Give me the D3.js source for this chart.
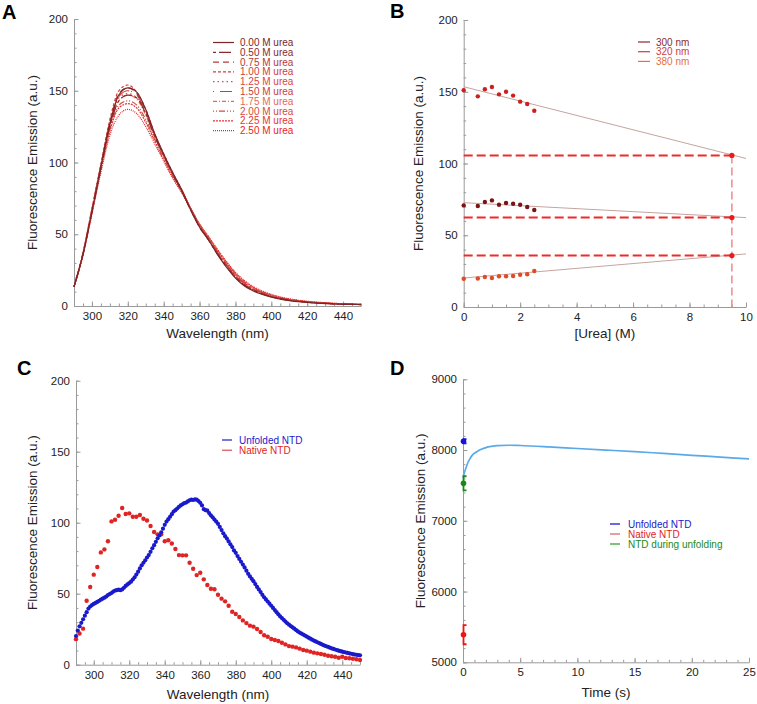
<!DOCTYPE html>
<html>
<head>
<meta charset="utf-8">
<script src="https://cdn.jsdelivr.net/npm/d3@7"></script>
<style>
body { margin: 0; background: #fff; }
svg { display: block; font-family: "Liberation Sans", Arial, sans-serif; }
.axis path, .axis line { stroke: #9a9a9a; stroke-width: 1; }
.axis text { fill: #222; font-size: 11.5px; font-family: "Liberation Sans", Arial, sans-serif; }
.title { fill: #222; font-size: 13.5px; }
.letter { fill: #000; font-size: 20px; font-weight: bold; }
.legend { font-size: 10px; }
</style>
</head>
<body>
<svg id="chart" width="757" height="704"></svg>
<script>
// ---------- Panel A : emission spectra at different urea ----------
var specWavelengths = [290,295,300,305,310,315,320,325,330,335,340,345,350,355,360,365,370,375,380,385,390,395,400,405,410,415,420,425,430,435,440,445,450];
var ureaLabels = ["0.00 M urea","0.50 M urea","0.75 M urea","1.00 M urea","1.25 M urea","1.50 M urea","1.75 M urea","2.00 M urea","2.25 M urea","2.50 M urea"];
var ureaColors = ["#7b2626","#8c2a2a","#b83838","#d23c3c","#dc4444","#cc3c3c","#e46a5c","#d44a40","#e43636","#ee2424"];
var ureaDashes = [null,"3,3,12,3","6,4","3,2","1.5,3","1,6,12,2","4,2,1,2","1,2,1,2,6,2","2,1","1,1"];
var u000 = [13.4,36,66,97,127,147,152,149,137,120,106,93,81,67,55,46,36,27,19.5,14,10.5,8,6.2,4.8,3.8,3.0,2.5,2.0,1.7,1.4,1.2,1.1,1.0];
var u050 = [13.4,36,65,96,125,143,147,145,134,118,105,92,80,67,55,46,36,27.5,20,14.5,11,8.4,6.5,5,4,3.2,2.6,2.1,1.8,1.5,1.3,1.1,1.0];
var u075 = [13.4,37,67,98,128,148,152,148,136,119,105,92,80,67,55,46,36.5,28,20.5,15,11.3,8.6,6.6,5.1,4.1,3.3,2.7,2.2,1.8,1.5,1.3,1.1,1.0];
var u100 = [13.4,37,68,99,130,150,154,149,137,120,106,93,81,68,56,47,37,28.5,21,15.4,11.6,8.8,6.8,5.3,4.2,3.4,2.8,2.3,1.9,1.6,1.4,1.2,1.1];
var u125 = [13.4,36,66,97,126,145,148,145,134,118,105,92,81,68,56,47,37.5,29,21.5,15.8,12,9.1,7,5.5,4.3,3.5,2.9,2.4,2.0,1.7,1.4,1.2,1.1];
var u150 = [13.4,36,67,98,127,146,150,147,135,119,105,92,81,68,56,47,37.5,29,21.5,16,12,9.2,7.1,5.5,4.4,3.5,2.9,2.4,2.0,1.7,1.4,1.2,1.1];
var u175 = [13.4,36,66,97,125,143,147,144,133,118,104,92,81,68,57,48,38,29.5,22,16.4,12.4,9.5,7.3,5.7,4.5,3.6,3.0,2.5,2.1,1.7,1.5,1.3,1.1];
var u200 = [13.4,36,66,96,123,140,143,140,130,116,103,91,80,68,57,48,38.5,30,22.5,16.8,12.7,9.7,7.5,5.9,4.6,3.7,3.1,2.5,2.1,1.8,1.5,1.3,1.1];
var u225 = [13.4,36,65,95,122,138,141,138,128,115,102,90,80,68,57,48,39,30.5,23,17.2,13,10,7.8,6.1,4.8,3.8,3.1,2.6,2.2,1.8,1.5,1.3,1.2];
var u250 = [13.4,35,64,93,119,133,137,134,125,113,101,89,79,68,57,48.5,39.5,31,23.5,17.8,13.5,10.4,8.1,6.3,5.0,4.0,3.3,2.7,2.3,1.9,1.6,1.4,1.2];
var spectra = [u000,u050,u075,u100,u125,u150,u175,u200,u225,u250];

// ---------- Panel B : emission vs urea ----------
var ureaConc = [0,0.5,0.75,1,1.25,1.5,1.75,2,2.25,2.5];
var em320 = [151,146.8,151.7,153.3,148.2,150,147.3,143.1,141.5,136.8];
var em300 = [70.8,70.4,73.2,74.3,71.3,72.5,72,71.3,69.7,67.6];
var em380 = [19.7,19.9,20.9,20.2,21.4,21.4,21.6,22.5,22.8,25.1];
var fitStart = [153.5,72.7,20.2];   // fitted line at 0 M
var fitEnd = [103.5,62.3,37.0];     // fitted line at 10 M
var extrapUrea = 9.5;
var extrapValues = [105.6,62.3,35.9];
var bLegend = ["300 nm","320 nm","380 nm"];
var bLegendColors = ["#8c2a2a","#d23c3c","#e8703c"];

// ---------- Panel C : native vs unfolded spectra ----------
var unfoldedWl = d3.range(290,451,1);
var unfoldedEm = [20.2,24,27,29.5,32,34.5,37,39.5,41,42,42.8,43.5,44.2,45,45.8,46.5,47.2,48,49,49.8,
  50.5,51.5,52.2,52.5,52.8,52.5,53,54.2,55.5,56.5,57.5,58.5,60,61.5,63.5,65.5,67.8,70,71.8,73.5,
  75.5,77.2,79.5,82,84.2,86.5,89,91,93.2,95.8,98.5,100.8,102.5,104.2,106,107.8,108.8,110,111.2,112.2,
  113,113.8,114.2,115,115.8,116.2,116,116.4,116.2,115.2,114,112.2,109.5,108.8,108.5,106.8,105.2,103.8,102.2,100.8,
  99.2,97,94.8,92.5,90.5,88.8,86.8,84.8,82.8,80.5,78.8,76.5,74.5,72.5,70.5,68.5,66.2,64,62.2,60.5,
  58.8,56.8,54.8,53,51.2,49.2,47.5,46,44.5,43,41.5,40,38.5,37,35.5,34,32.8,31.6,30.4,29.2,
  28.2,27.2,26.3,25.4,24.4,23.4,22.6,21.9,21.2,20.5,19.8,19,18.3,17.6,17,16.4,15.8,15.2,14.6,14,
  13.5,13,12.5,12,11.5,11.1,10.7,10.3,9.9,9.5,9.2,8.9,8.6,8.3,8,7.7,7.5,7.2,7,6.8,6.6];
var nativeWl = d3.range(290,451,2);
var nativeEm = [18,22,25.4,45,54.7,63.4,68.8,79.1,81.2,86.9,100.9,102.1,104.9,110.3,106.1,106.6,104.2,104.2,105.4,102.8,
  101.6,97.7,93.4,91.8,91.8,86.9,87.6,85.4,81.5,77.2,77,77,71.8,67.6,63.1,64.8,60.1,56.1,53.5,53.1,
  49.3,46.5,44.6,41.5,37.3,35.7,33.6,31.2,29.3,27.5,26.8,25.1,23,20.7,19.7,18.1,17.4,16.7,15.5,14.3,
  13.1,12.7,12.2,11.3,10.3,9.9,9.2,8.5,8,7.5,7,6.3,5.9,5.6,4.9,5.6,4.7,4.5,4.2,3.8,3.3];
var cLegend = ["Unfolded NTD","Native NTD"];
var cColors = ["#1a1acc","#e02424"];

// ---------- Panel D : kinetics ----------
var kinTime = [0,0.2,0.4,0.6,0.8,1.0,1.3,1.6,2.0,2.5,3,4,5,7.5,10,12.5,15,17.5,20,22.5,25];
var kinEm = [7610,7720,7810,7875,7925,7955,7985,8010,8035,8052,8062,8068,8064,8045,8022,8000,7978,7952,7926,7900,7874];
var dLegend = ["Unfolded NTD","Native NTD","NTD during unfolding"];
var dLineColors = ["#1a1acc","#d86a6a","#3aa03a"];
var dTextColors = ["#1a1acc","#e02424","#1a8a1a"];
var dPointValues = [8125,5390,7530];
var dPointErrors = [30,135,100];
var dPointColors = ["#1414dd","#ee1414","#168a16"];

var svg = d3.select("#chart");

// builds axes for one panel, returns scales
function makePanel(o) {
  var x = d3.scaleLinear().domain(o.xDomain).range([o.left, o.right]);
  var y = d3.scaleLinear().domain(o.yDomain).range([o.bottom, o.top]);
  var g = svg.append("g");

  g.append("g").attr("class", "axis").attr("transform", "translate(0," + o.bottom + ")")
    .call(d3.axisBottom(x).tickValues(o.xMinor).tickSize(-2.5).tickFormat(""))
    .select(".domain").remove();
  g.append("g").attr("class", "axis").attr("transform", "translate(" + o.left + ",0)")
    .call(d3.axisLeft(y).tickValues(o.yMinor).tickSize(-2.5).tickFormat(""))
    .select(".domain").remove();

  g.append("g").attr("class", "axis").attr("transform", "translate(0," + o.bottom + ")")
    .call(d3.axisBottom(x).tickValues(o.xTicks).tickSizeInner(-4.5).tickSizeOuter(0).tickPadding(6).tickFormat(d3.format("d")));
  g.append("g").attr("class", "axis").attr("transform", "translate(" + o.left + ",0)")
    .call(d3.axisLeft(y).tickValues(o.yTicks).tickSizeInner(-4.5).tickSizeOuter(0).tickPadding(6).tickFormat(d3.format("d")));

  g.append("text").attr("class", "title")
    .attr("x", (o.left + o.right) / 2).attr("y", o.xTitleY)
    .attr("text-anchor", "middle").text(o.xTitle);
  g.append("text").attr("class", "title")
    .attr("transform", "translate(" + o.yTitleX + "," + ((o.top + o.bottom) / 2) + ") rotate(-90)")
    .attr("text-anchor", "middle").attr("dy", "0.35em").text(o.yTitle);
  g.append("text").attr("class", "letter")
    .attr("x", o.letterX).attr("y", o.letterY).text(o.letter);
  return {g: g, x: x, y: y};
}

// ===== Panel A =====
var pA = makePanel({
  left: 74, right: 361, top: 19, bottom: 306,
  xDomain: [290, 450], yDomain: [0, 200],
  xTicks: d3.range(300, 441, 20), xMinor: d3.range(290, 451, 5),
  yTicks: d3.range(0, 201, 50), yMinor: d3.range(0, 201, 10),
  xTitle: "Wavelength (nm)", xTitleY: 338,
  yTitle: "Fluorescence Emission (a.u.)", yTitleX: 32,
  letter: "A", letterX: 2, letterY: 19
});
var lineA = d3.line()
  .x(function (d, i) { return pA.x(specWavelengths[i]); })
  .y(function (d) { return pA.y(d); })
  .curve(d3.curveMonotoneX);
for (var i = spectra.length - 1; i >= 0; i--) {
  pA.g.append("path").datum(spectra[i])
    .attr("d", lineA)
    .attr("fill", "none")
    .attr("stroke", ureaColors[i])
    .attr("stroke-width", 1.2)
    .attr("stroke-dasharray", ureaDashes[i]);
}
var legA = pA.g.append("g").attr("class", "legend");
ureaLabels.forEach(function (lab, i) {
  var yy = 42.5 + i * 9.8;
  legA.append("line").attr("x1", 213).attr("x2", 234).attr("y1", yy).attr("y2", yy)
    .attr("stroke", ureaColors[i]).attr("stroke-width", 1.2).attr("stroke-dasharray", ureaDashes[i]);
  legA.append("text").attr("x", 240).attr("y", yy).attr("dy", "0.35em")
    .attr("fill", ureaColors[i]).text(lab);
});

// ===== Panel B =====
var pB = makePanel({
  left: 463.7, right: 746, top: 20, bottom: 307,
  xDomain: [0, 10], yDomain: [0, 200],
  xTicks: d3.range(0, 11, 2), xMinor: d3.range(0, 10.01, 0.5),
  yTicks: d3.range(0, 201, 50), yMinor: d3.range(0, 201, 10),
  xTitle: "[Urea] (M)", xTitleY: 338,
  yTitle: "Fluorescence Emission (a.u.)", yTitleX: 418,
  letter: "B", letterX: 390, letterY: 18
});
var bSeries = [em300, em320, em380];
var bDotColors = ["#7a1414", "#cc2020", "#e04a24"];
// fitted lines
fitStart.forEach(function (v, i) {
  pB.g.append("line")
    .attr("x1", pB.x(0)).attr("y1", pB.y(v))
    .attr("x2", pB.x(10)).attr("y2", pB.y(fitEnd[i]))
    .attr("stroke", "#c4a4a0").attr("stroke-width", 1);
});
// extrapolation guides
pB.g.append("line")
  .attr("x1", pB.x(extrapUrea)).attr("x2", pB.x(extrapUrea))
  .attr("y1", pB.y(d3.max(extrapValues))).attr("y2", pB.y(0))
  .attr("stroke", "#f08a8a").attr("stroke-width", 1.5).attr("stroke-dasharray", "8,4");
extrapValues.forEach(function (v) {
  pB.g.append("line")
    .attr("x1", pB.x(0)).attr("x2", pB.x(extrapUrea))
    .attr("y1", pB.y(v)).attr("y2", pB.y(v))
    .attr("stroke", "#ee2a2a").attr("stroke-width", 2).attr("stroke-dasharray", "9,4");
  pB.g.append("circle").attr("cx", pB.x(extrapUrea)).attr("cy", pB.y(v)).attr("r", 2.6).attr("fill", "#ee1a1a");
});
bSeries.forEach(function (s, k) {
  pB.g.selectAll(null).data(s).enter().append("circle")
    .attr("cx", function (d, i) { return pB.x(ureaConc[i]); })
    .attr("cy", function (d) { return pB.y(d); })
    .attr("r", 2.2).attr("fill", bDotColors[k]);
});
var legB = pB.g.append("g").attr("class", "legend");
bLegend.forEach(function (lab, i) {
  var yy = 42 + i * 9.7;
  legB.append("line").attr("x1", 638).attr("x2", 650).attr("y1", yy).attr("y2", yy)
    .attr("stroke", bLegendColors[i]).attr("stroke-width", 1.2);
  legB.append("text").attr("x", 656).attr("y", yy).attr("dy", "0.35em")
    .attr("fill", bLegendColors[i]).text(lab);
});

// ===== Panel C =====
var pC = makePanel({
  left: 76, right: 360, top: 380.7, bottom: 664.7,
  xDomain: [290, 450], yDomain: [0, 200],
  xTicks: d3.range(300, 441, 20), xMinor: d3.range(290, 451, 5),
  yTicks: d3.range(0, 201, 50), yMinor: d3.range(0, 201, 10),
  xTitle: "Wavelength (nm)", xTitleY: 699,
  yTitle: "Fluorescence Emission (a.u.)", yTitleX: 32,
  letter: "C", letterX: 17, letterY: 375
});
pC.g.selectAll(null).data(nativeEm).enter().append("circle")
  .attr("cx", function (d, i) { return pC.x(nativeWl[i]); })
  .attr("cy", function (d) { return pC.y(d); })
  .attr("r", 2.2).attr("fill", cColors[1]);
pC.g.selectAll(null).data(unfoldedEm).enter().append("circle")
  .attr("cx", function (d, i) { return pC.x(unfoldedWl[i]); })
  .attr("cy", function (d) { return pC.y(d); })
  .attr("r", 2.1).attr("fill", cColors[0]);
var legC = pC.g.append("g").attr("class", "legend");
cLegend.forEach(function (lab, i) {
  var yy = 440 + i * 10.3;
  legC.append("line").attr("x1", 222).attr("x2", 232).attr("y1", yy).attr("y2", yy)
    .attr("stroke", i == 0 ? "#4a4ad8" : "#e07070").attr("stroke-width", 1.5);
  legC.append("text").attr("x", 239).attr("y", yy).attr("dy", "0.35em")
    .attr("fill", cColors[i]).text(lab);
});

// ===== Panel D =====
var pD = makePanel({
  left: 463, right: 749, top: 379.3, bottom: 662.3,
  xDomain: [0, 25], yDomain: [5000, 9000],
  xTicks: d3.range(0, 26, 5), xMinor: d3.range(0, 26, 1),
  yTicks: d3.range(5000, 9001, 1000), yMinor: d3.range(5000, 9001, 200),
  xTitle: "Time (s)", xTitleY: 697,
  yTitle: "Fluorescence Emission (a.u.)", yTitleX: 420,
  letter: "D", letterX: 390, letterY: 375
});
var lineD = d3.line()
  .x(function (d, i) { return pD.x(kinTime[i]); })
  .y(function (d) { return pD.y(d); })
  .curve(d3.curveMonotoneX);
pD.g.append("path").datum(kinEm)
  .attr("d", lineD).attr("fill", "none")
  .attr("stroke", "#5aaae8").attr("stroke-width", 1.7);
dPointValues.forEach(function (v, i) {
  var cx = pD.x(0) + 0.5;
  var yTop = pD.y(v + dPointErrors[i]), yBot = pD.y(v - dPointErrors[i]);
  var c = dPointColors[i];
  pD.g.append("path")
    .attr("d", "M" + (cx + 3) + "," + yTop + "H" + cx + "V" + yBot + "H" + (cx + 3))
    .attr("fill", "none").attr("stroke", c).attr("stroke-width", 1.8);
  pD.g.append("circle").attr("cx", cx).attr("cy", pD.y(v)).attr("r", 2.8).attr("fill", c);
});
var legD = pD.g.append("g").attr("class", "legend");
dLegend.forEach(function (lab, i) {
  var yy = 524 + i * 10;
  legD.append("line").attr("x1", 610).attr("x2", 620).attr("y1", yy).attr("y2", yy)
    .attr("stroke", dLineColors[i]).attr("stroke-width", 1.3);
  legD.append("text").attr("x", 628).attr("y", yy).attr("dy", "0.35em")
    .attr("fill", dTextColors[i]).text(lab);
});
</script>
</body>
</html>
